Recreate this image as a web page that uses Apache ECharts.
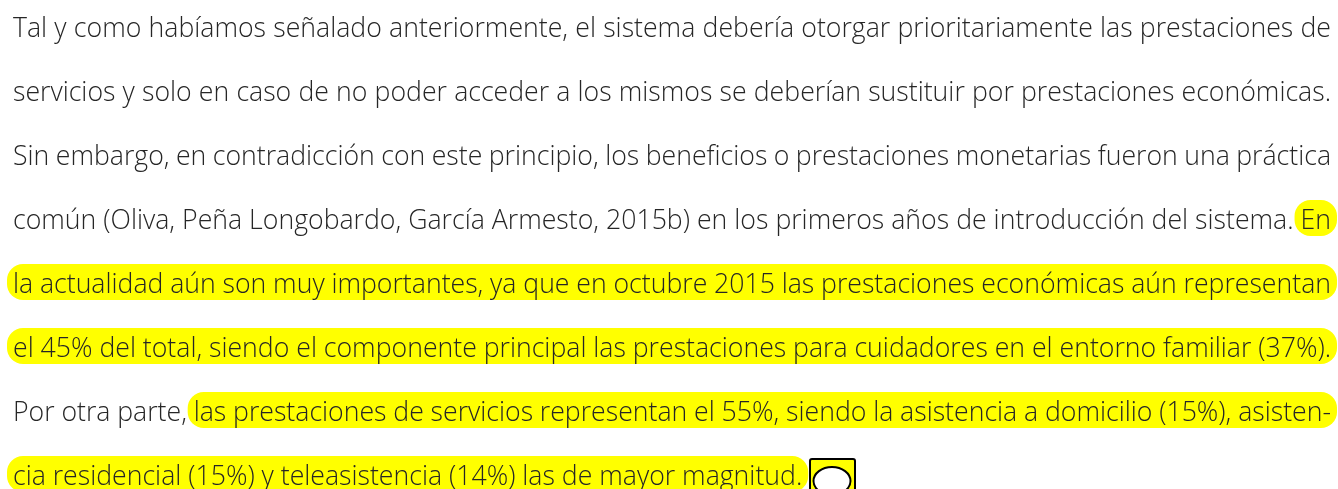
<!DOCTYPE html>
<html>
<head>
<meta charset="utf-8">
<style>
  html, body { margin: 0; padding: 0; background: #fff; overflow: hidden; }
  #main { width: 1338px; height: 489px; overflow: hidden; }
</style>
<script src="https://cdn.jsdelivr.net/npm/echarts@6/dist/echarts.min.js"></script>
</head>
<body>
<div id="main"></div>
<script>
const textLines = [
  'Tal y como habíamos señalado anteriormente, el sistema debería otorgar prioritariamente las prestaciones de',
  'servicios y solo en caso de no poder acceder a los mismos se deberían sustituir por prestaciones económicas.',
  'Sin embargo, en contradicción con este principio, los beneficios o prestaciones monetarias fueron una práctica',
  'común (Oliva, Peña Longobardo, García Armesto, 2015b) en los primeros años de introducción del sistema. En',
  'la actualidad aún son muy importantes, ya que en octubre 2015 las prestaciones económicas aún representan',
  'el 45% del total, siendo el componente principal las prestaciones para cuidadores en el entorno familiar (37%).',
  'Por otra parte, las prestaciones de servicios representan el 55%, siendo la asistencia a domicilio (15%), asisten-',
  'cia residencial (15%) y teleasistencia (14%) las de mayor magnitud.'
]
// index of the first highlighted word per line, -1 = no highlight
const highlightFrom = [-1, -1, -1, 15, 0, 0, 3, 0]
const justified = [true, true, true, true, true, true, true, false]

const fontFamily = '"Open Sans"'
const fontSize = 26.67
const fontWeight = 300
const textColor = '#262626'
const yellow = '#ffff00'
const leftX = 13
const rightX = 1331
const firstLineY = 29
const lineGap = 64
const bandTop = -21
const bandHeight = 36
const bandPad = 6

const chart = echarts.init(document.getElementById('main'))
const ctx = document.createElement('canvas').getContext('2d')
ctx.font = `${fontWeight} ${fontSize}px ${fontFamily}`

const bands = []
const words = []
textLines.forEach((line, i) => {
  const parts = line.split(' ')
  const widths = parts.map(w => ctx.measureText(w).width)
  const used = widths.reduce((a, b) => a + b, 0)
  const gap = justified[i]
    ? (rightX - leftX - used) / (parts.length - 1)
    : ctx.measureText(' ').width
  const y = firstLineY + i * lineGap
  let x = leftX
  let bandStart = null
  parts.forEach((w, k) => {
    if (k === highlightFrom[i]) bandStart = x - bandPad
    words.push({
      type: 'text',
      z: 2,
      style: {
        x: x,
        y: y,
        text: w,
        fill: textColor,
        font: `${fontWeight} ${fontSize}px ${fontFamily}`,
        textVerticalAlign: 'middle'
      }
    })
    x += widths[k] + gap
  })
  if (bandStart !== null) {
    const end = x - gap + bandPad
    bands.push({
      type: 'rect',
      z: 1,
      shape: { x: bandStart, y: y + bandTop, width: end - bandStart, height: bandHeight, r: 16 },
      style: { fill: yellow }
    })
  }
})

const marker = [
  {
    type: 'rect',
    z: 3,
    shape: { x: 810, y: 459, width: 45, height: 40, r: 2 },
    style: { fill: yellow, stroke: '#000', lineWidth: 2 }
  },
  {
    type: 'ellipse',
    z: 4,
    shape: { cx: 832, cy: 481, rx: 18.5, ry: 14 },
    style: { fill: '#fff', stroke: '#000', lineWidth: 2 }
  }
]

chart.setOption({
  animation: false,
  graphic: { elements: bands.concat(words, marker) }
})
</script>
</body>
</html>
